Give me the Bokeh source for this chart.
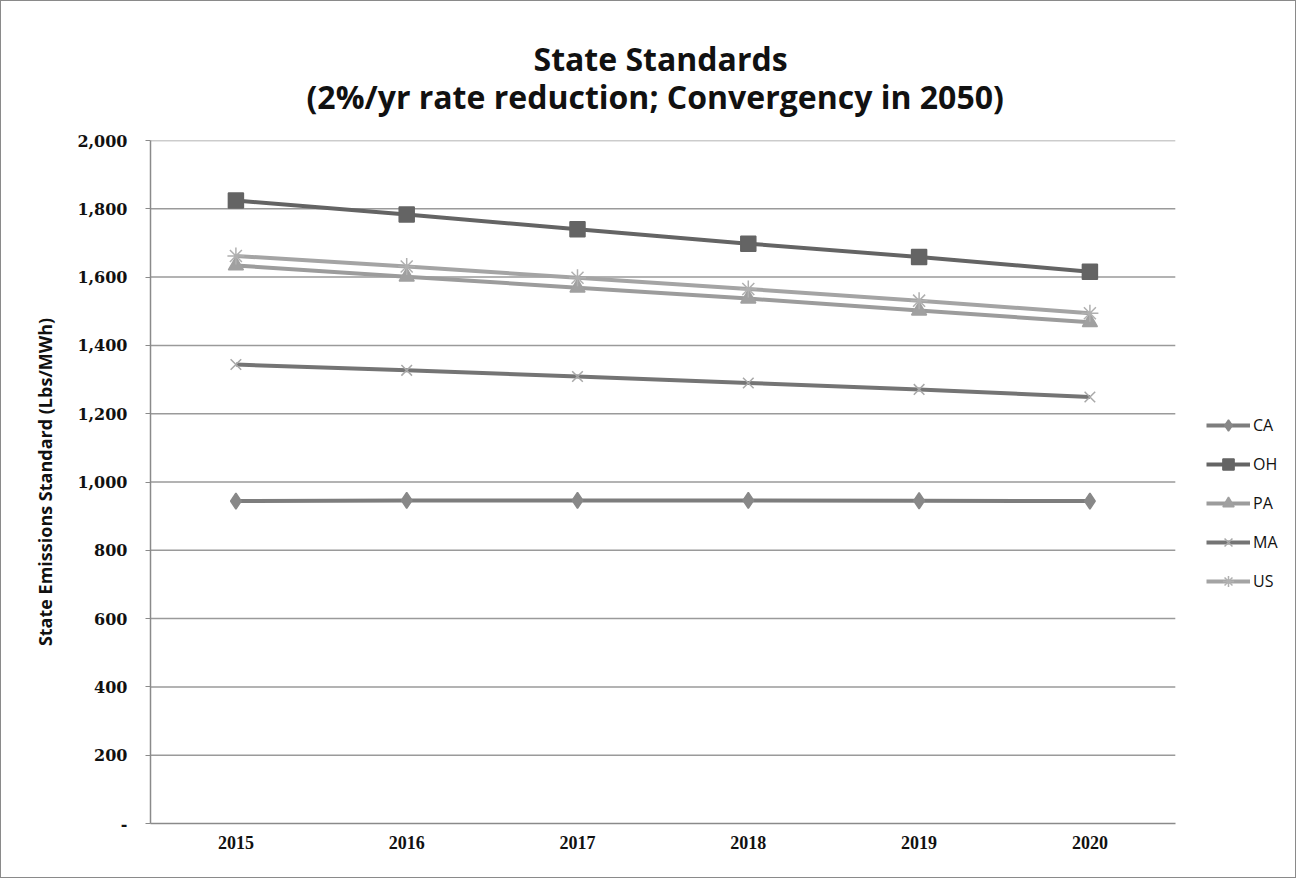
from bokeh.plotting import figure
from bokeh.models import (Range1d, FixedTicker, NumeralTickFormatter, Title, Legend, LegendItem)
from bokeh.embed import file_html
from bokeh.resources import INLINE

years = ["2015", "2016", "2017", "2018", "2019", "2020"]
CA = [944, 946, 946, 946, 945, 944]
OH = [1824, 1783, 1740, 1698, 1659, 1616]
PA = [1634, 1601, 1569, 1537, 1502, 1468]
MA = [1344, 1327, 1309, 1290, 1271, 1249]
US = [1662, 1631, 1598, 1565, 1531, 1494]
y_ticks = [0, 200, 400, 600, 800, 1000, 1200, 1400, 1600, 1800, 2000]

xi = list(range(len(years)))
x_lo, x_hi = -0.5, len(years) - 0.5

W, H = 1296, 878
LEFT, TOP, BOTTOM = 149, 139, 56
frame_w = W - LEFT
x_end = x_lo + frame_w / 170.8

p = figure(width=W, height=H, x_range=Range1d(x_lo, x_end), y_range=Range1d(0, 2000),
           output_backend="svg", toolbar_location=None,
           min_border_left=LEFT, min_border_right=0, min_border_top=TOP, min_border_bottom=BOTTOM)
p.styles = {"border": "1px solid #8a8a8a"}
p.outline_line_color = None

p.add_layout(Title(text="(2%/yr rate reduction; Convergency in 2050)", align="left", offset=156,
                   text_font="Open Sans", text_font_size="32px", text_font_style="bold",
                   text_color="#111111", standoff=46), "above")
p.add_layout(Title(text="State Standards", align="left", offset=383,
                   text_font="Open Sans", text_font_size="32px", text_font_style="bold",
                   text_color="#111111", standoff=-60), "above")

# horizontal grid lines limited to the category area
p.xgrid.grid_line_color = None
p.ygrid.grid_line_color = None
p.segment(x0=[x_lo] * len(y_ticks[1:]), x1=[x_hi] * len(y_ticks[1:]), y0=y_ticks[1:], y1=y_ticks[1:],
          line_color="#9a9a9a", line_width=1.5)

p.yaxis.ticker = FixedTicker(ticks=y_ticks)
p.yaxis.formatter = NumeralTickFormatter(format="0,0")
p.yaxis.major_label_overrides = {0: "-"}
p.yaxis.axis_label = "State Emissions Standard (Lbs/MWh)"
p.yaxis.axis_label_text_font = "Open Sans"
p.yaxis.axis_label_text_font_style = "bold"
p.yaxis.axis_label_text_font_size = "18px"
p.yaxis.axis_label_standoff = 17
p.yaxis.major_label_text_font = "DejaVu Serif"
p.yaxis.major_label_text_font_style = "bold"
p.yaxis.major_label_text_font_size = "16px"
p.yaxis.major_label_standoff = 18
p.yaxis.major_tick_out = 5
p.yaxis.major_tick_in = 0
p.yaxis.minor_tick_out = 0
p.yaxis.minor_tick_in = 0

p.xaxis.ticker = FixedTicker(ticks=xi)
p.xaxis.major_label_overrides = {i: y for i, y in zip(xi, years)}
p.xaxis.bounds = (x_lo, x_hi)
p.xaxis.major_tick_out = 0
p.xaxis.major_tick_in = 0
p.xaxis.minor_tick_out = 0
p.xaxis.minor_tick_in = 0
p.xaxis.major_label_text_font = "Liberation Sans Narrow"
p.xaxis.major_label_text_font_style = "bold"
p.xaxis.major_label_text_font_size = "18px"
p.xaxis.major_label_standoff = 12
for ax in (p.xaxis, p.yaxis):
    ax.axis_line_color = "#8a8a8a"
    ax.axis_line_width = 1.5
    ax.major_tick_line_color = "#8a8a8a"
    ax.major_label_text_color = "#111111"
    ax.axis_label_text_color = "#111111"

series = [
    ("CA", CA, "#7d7d7d", "#888888", "diamond", 16),
    ("OH", OH, "#646464", "#646464", "square", 15),
    ("PA", PA, "#9c9c9c", "#a0a0a0", "triangle", 15),
    ("MA", MA, "#747474", "#a8a8a8", "x", 15),
    ("US", US, "#a4a4a4", "#b0b0b0", "asterisk", 17),
]
items = []
for name, vals, col, mcol, mk, sz in series:
    l = p.line(xi, vals, line_color=col, line_width=4)
    s = p.scatter(xi, vals, marker=mk, size=sz, fill_color=mcol, line_color=mcol, line_width=1.5)
    items.append(LegendItem(label=name, renderers=[l, s]))

legend = Legend(items=items, location=(1056, 228), border_line_color=None,
                background_fill_alpha=0, glyph_width=44, glyph_height=28,
                spacing=11, label_standoff=3, label_text_font="Open Sans",
                label_text_font_size="16px", label_text_color="#111111", padding=0, margin=0)
p.add_layout(legend, "center")

open("out.html", "w").write(file_html(p, INLINE))
